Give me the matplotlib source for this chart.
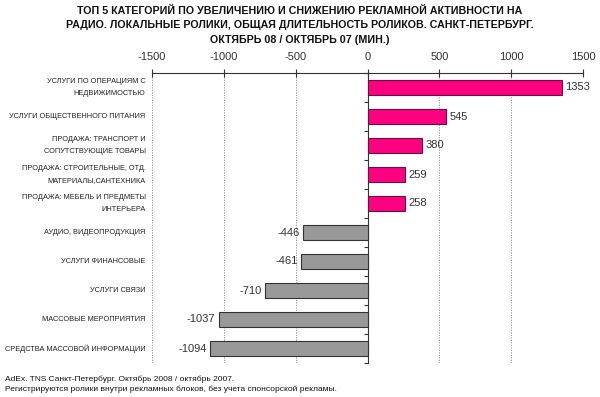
import numpy as np
import matplotlib.pyplot as plt
import matplotlib.transforms as mtransforms

plt.rcParams['font.family'] = ['Liberation Sans', 'DejaVu Sans']

# categories, top to bottom
categories = [
    'УСЛУГИ ПО ОПЕРАЦИЯМ С\nНЕДВИЖИМОСТЬЮ',
    'УСЛУГИ ОБЩЕСТВЕННОГО ПИТАНИЯ',
    'ПРОДАЖА: ТРАНСПОРТ И\nСОПУТСТВУЮЩИЕ ТОВАРЫ',
    'ПРОДАЖА: СТРОИТЕЛЬНЫЕ, ОТД.\nМАТЕРИАЛЫ,САНТЕХНИКА',
    'ПРОДАЖА: МЕБЕЛЬ И ПРЕДМЕТЫ\nИНТЕРЬЕРА',
    'АУДИО, ВИДЕОПРОДУКЦИЯ',
    'УСЛУГИ ФИНАНСОВЫЕ',
    'УСЛУГИ СВЯЗИ',
    'МАССОВЫЕ МЕРОПРИЯТИЯ',
    'СРЕДСТВА МАССОВОЙ ИНФОРМАЦИИ',
]
values = [1353, 545, 380, 259, 258, -446, -461, -710, -1037, -1094]
xticks = [-1500, -1000, -500, 0, 500, 1000, 1500]

title = ('ТОП 5 КАТЕГОРИЙ ПО УВЕЛИЧЕНИЮ И СНИЖЕНИЮ РЕКЛАМНОЙ АКТИВНОСТИ НА\n'
         'РАДИО. ЛОКАЛЬНЫЕ РОЛИКИ, ОБЩАЯ ДЛИТЕЛЬНОСТЬ РОЛИКОВ. САНКТ-ПЕТЕРБУРГ.\n'
         'ОКТЯБРЬ 08 / ОКТЯБРЬ 07 (МИН.)')
footer = ('AdEx. TNS Санкт-Петербург. Октябрь 2008 / октябрь 2007.\n'
          'Регистрируются ролики внутри рекламных блоков, без учета спонсорской рекламы.')

fig = plt.figure(figsize=(6, 3.97), dpi=100)
# axes: x 152..583 px, y 73..363 px
ax = fig.add_axes([152 / 600, 1 - 363 / 397, 431 / 600, 290 / 397])

y = np.arange(len(values))
colors = ['#FF0080' if v > 0 else '#999999' for v in values]
edges = ['#6a1040' if v > 0 else '#333333' for v in values]
ax.barh(y, values, height=0.55, color=colors, edgecolor=edges, linewidth=0.8, zorder=3)

ax.set_xlim(-1500, 1500)
ax.set_ylim(len(values) - 0.5, -0.5)

# value labels
for yi, v in zip(y, values):
    if v > 0:
        ax.text(v + 25, yi, str(v), va='center', ha='left', fontsize=8, color='#333333', zorder=4)
    else:
        ax.text(v - 25, yi, str(v), va='center', ha='right', fontsize=8, color='#333333', zorder=4)

# category labels at left of plot
trans = mtransforms.blended_transform_factory(ax.transAxes, ax.transData)
for yi, c in zip(y, categories):
    ax.text(-0.015, yi, c, transform=trans, ha='right', va='center', fontsize=5.3,
            color='#222222', linespacing=2.0)

# x axis on top
ax.xaxis.tick_top()
ax.set_xticks(xticks)
ax.set_xticklabels([str(t) for t in xticks], fontsize=8, color='#333333')
ax.tick_params(axis='x', length=6, width=0.8, color='#333333', pad=5, direction='inout')
ax.xaxis.grid(True, linestyle=(0, (1.5, 1.5)), color='#888888', linewidth=0.6, zorder=0)

# zero axis with ticks at category boundaries
ax.spines['left'].set_position(('data', 0))
ax.spines['left'].set_color('#333333')
ax.set_yticks(np.arange(len(values) + 1) - 0.5)
ax.set_yticklabels([])
ax.tick_params(axis='y', length=3, width=0.8, color='#333333', direction='out')
ax.spines['right'].set_visible(False)
ax.spines['bottom'].set_visible(False)
ax.spines['top'].set_color('#333333')

fig.text(0.5, 0.985, title, ha='center', va='top', fontsize=7.7, fontweight='bold',
         color='#111111', linespacing=1.55)
fig.text(0.008, 0.055, footer, ha='left', va='top', fontsize=6, color='#111111', linespacing=1.6)

fig.savefig('out.png', dpi=100, facecolor='white')
